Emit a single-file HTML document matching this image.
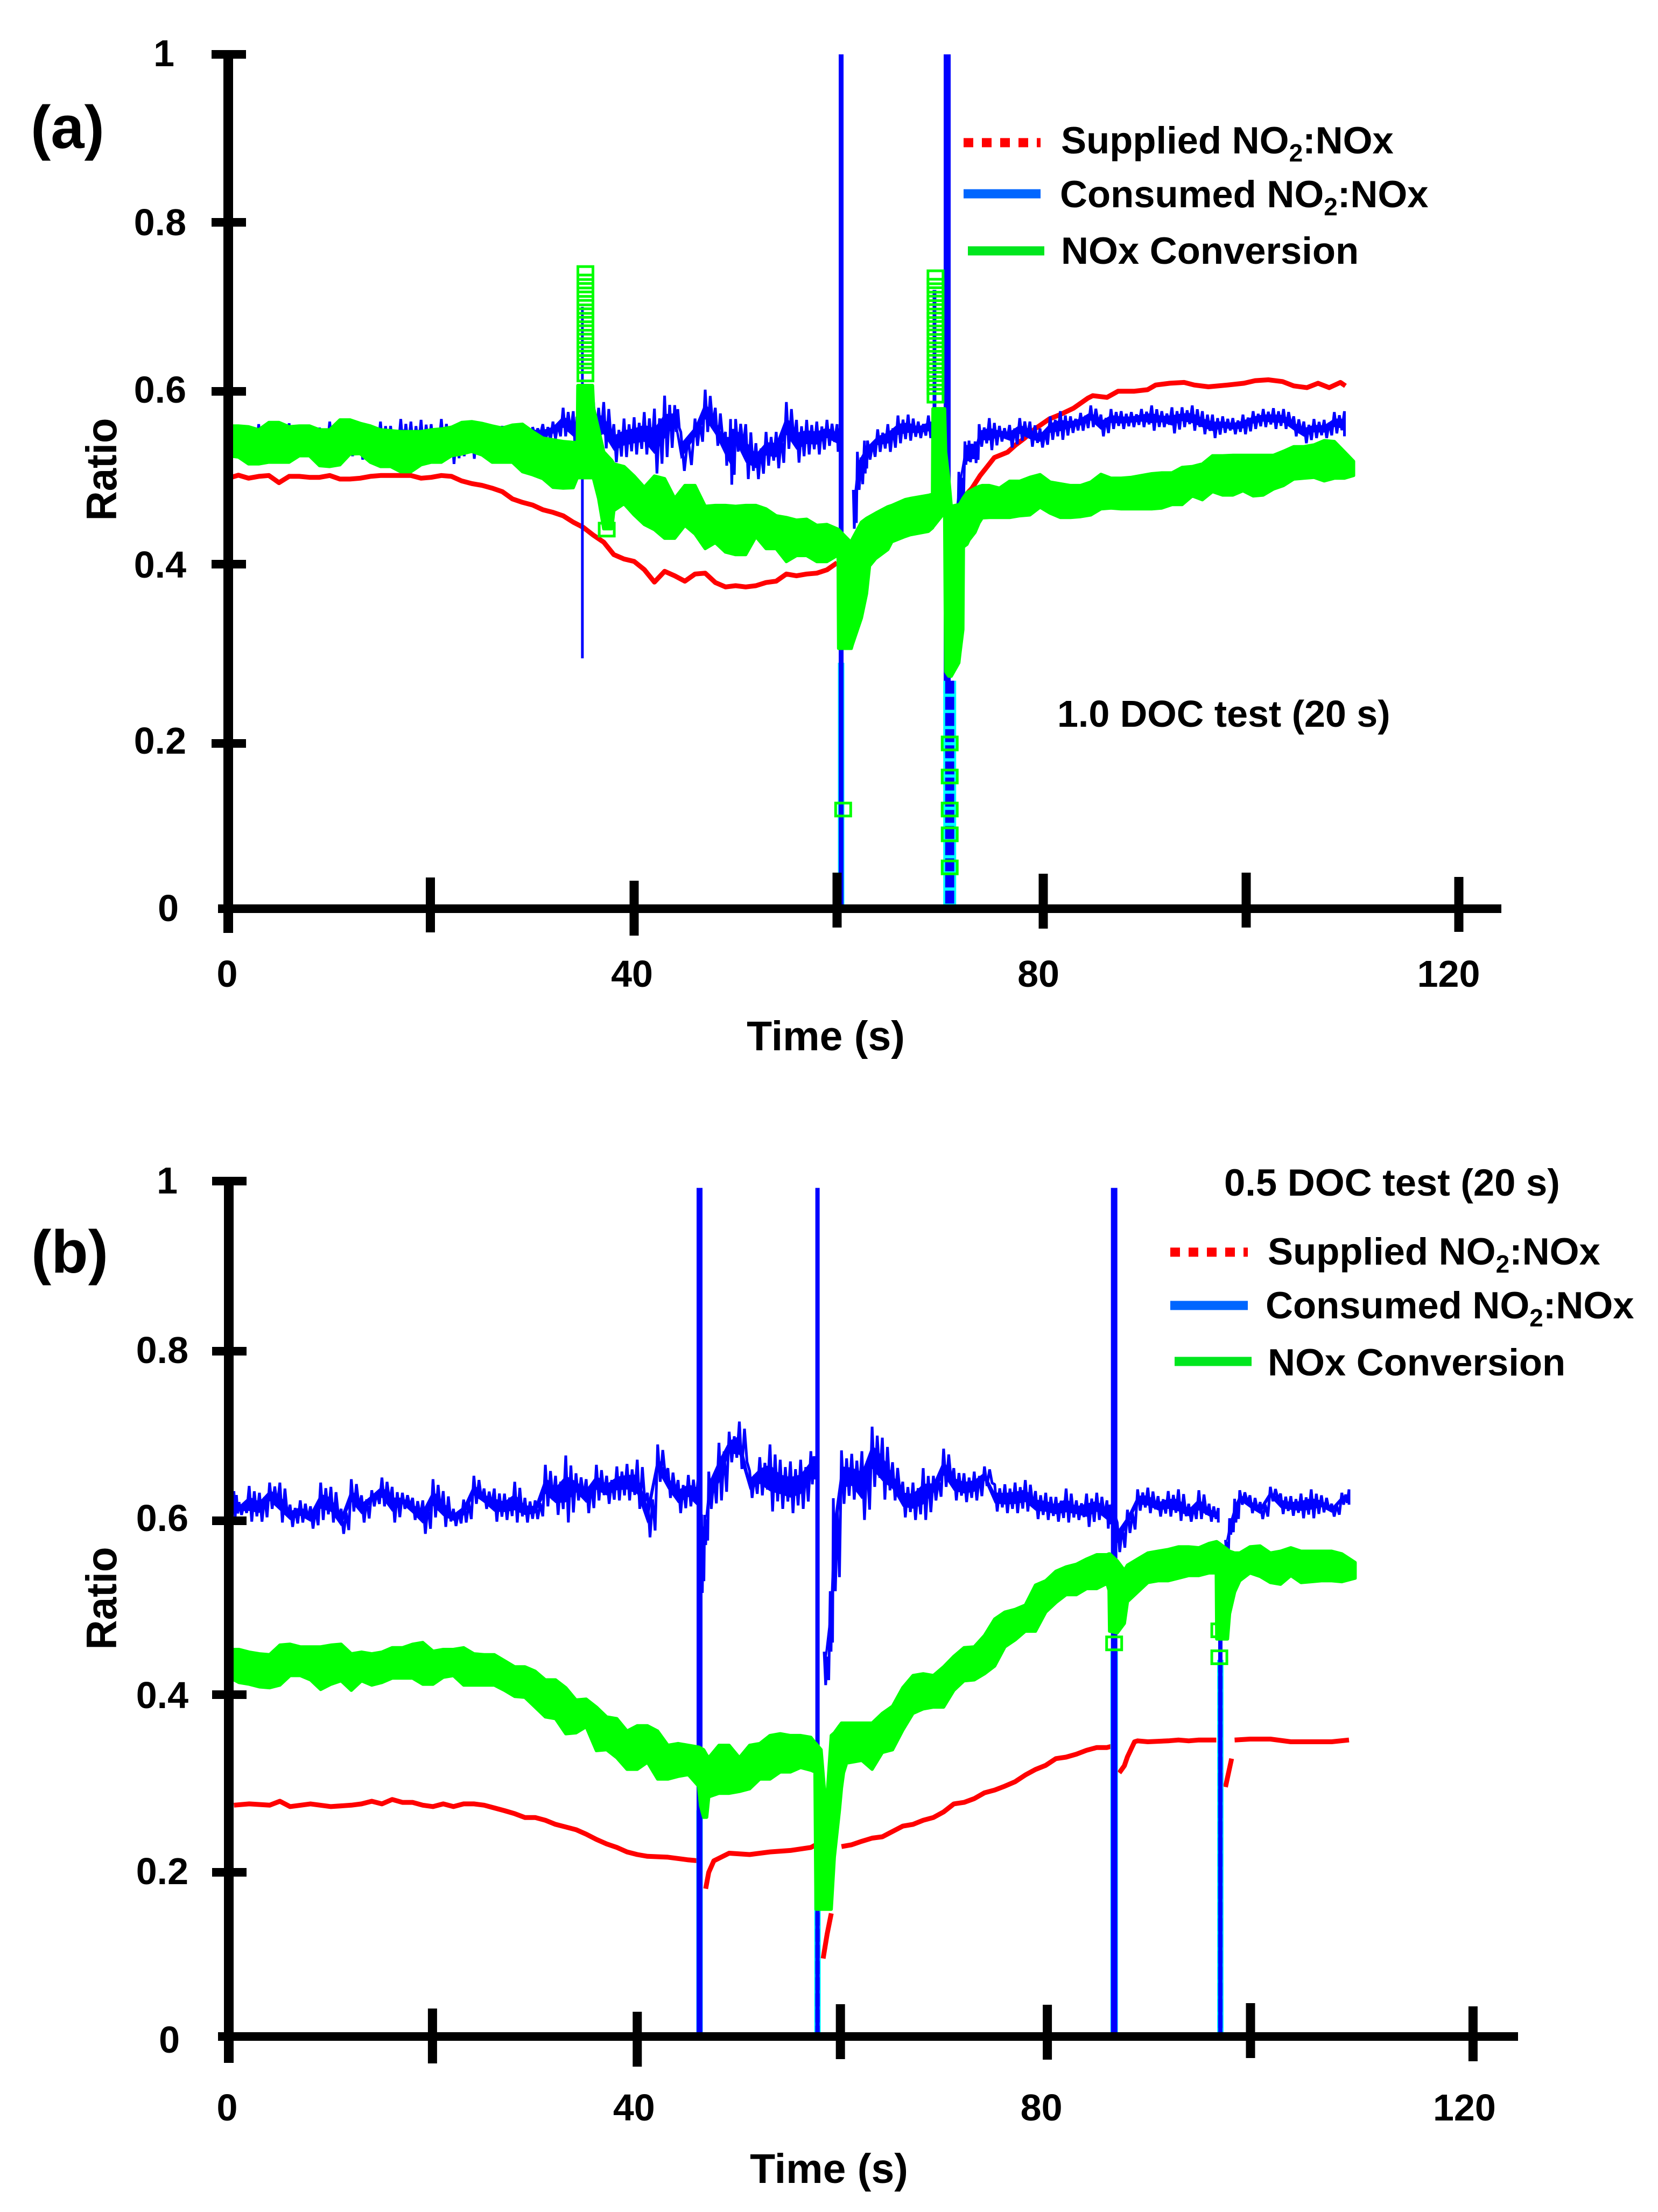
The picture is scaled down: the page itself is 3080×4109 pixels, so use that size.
<!DOCTYPE html>
<html lang="en">
<head>
<meta charset="utf-8">
<title>NO2:NOx ratio during DOC tests</title>
<style>
html,body{margin:0;padding:0;background:#fff;}
svg{display:block;}
text{font-family:"Liberation Sans",Arial,sans-serif;font-weight:bold;fill:#000;}
</style>
</head>
<body>
<svg id="figure" xmlns="http://www.w3.org/2000/svg" width="3080" height="4109" viewBox="0 0 3080 4109">
  <rect x="0" y="0" width="3080" height="4109" fill="#fff"/>

  <g id="panelA"></g>
  <g id="panelB"></g>

  <text x="57" y="275" font-size="112">(a)</text>
  <text x="58" y="2364" font-size="112">(b)</text>

  <text transform="translate(216 872) rotate(-90)" text-anchor="middle" font-size="80" textLength="191" lengthAdjust="spacingAndGlyphs">Ratio</text>
  <text transform="translate(216 2969) rotate(-90)" text-anchor="middle" font-size="80" textLength="191" lengthAdjust="spacingAndGlyphs">Ratio</text>
  <text x="1534" y="1951" text-anchor="middle" font-size="77">Time (s)</text>
  <text x="1540" y="4055" text-anchor="middle" font-size="77">Time (s)</text>

  <g>
    <line x1="1790" y1="265" x2="1933" y2="265" stroke="#ff0000" stroke-width="17" stroke-dasharray="18 16"/>
    <line x1="1790" y1="360" x2="1933" y2="360" stroke="#0066ff" stroke-width="17"/>
    <line x1="1798" y1="466" x2="1940" y2="466" stroke="#00e61e" stroke-width="17"/>
    <text x="1971" y="285" font-size="70.6">Supplied NO<tspan dy="15" font-size="46">2</tspan><tspan dy="-15">:NOx</tspan></text>
    <text x="1969" y="385" font-size="70.6">Consumed NO<tspan dy="15" font-size="46">2</tspan><tspan dy="-15">:NOx</tspan></text>
    <text x="1971" y="490" font-size="70.6">NOx Conversion</text>
  </g>
  <text x="1964" y="1350" font-size="70">1.0 DOC test (20 s)</text>

  <g>
    <line x1="2174" y1="2326" x2="2318" y2="2326" stroke="#ff0000" stroke-width="17" stroke-dasharray="18 16"/>
    <line x1="2174" y1="2425" x2="2318" y2="2425" stroke="#0066ff" stroke-width="17"/>
    <line x1="2182" y1="2529" x2="2325" y2="2529" stroke="#00e61e" stroke-width="17"/>
    <text x="2355" y="2349" font-size="70.6">Supplied NO<tspan dy="15" font-size="46">2</tspan><tspan dy="-15">:NOx</tspan></text>
    <text x="2351" y="2449" font-size="70.6">Consumed NO<tspan dy="15" font-size="46">2</tspan><tspan dy="-15">:NOx</tspan></text>
    <text x="2355" y="2555" font-size="70.6">NOx Conversion</text>
  </g>
  <text x="2274" y="2221" font-size="70.6">0.5 DOC test (20 s)</text>
</svg>

<script>
// ---------- shared axis values ----------
const xTickValues = [0,20,40,60,80,100,120];
const xLabelValues = [0,40,80,120];
const yTickValues = [0,0.2,0.4,0.6,0.8,1];
const yTickLabels = ['0','0.2','0.4','0.6','0.8','1'];

// ---------- panel (a) series: rows are [time, upper, lower] or [time, value]; null = gap ----------
const aSupplied = [[0,.4995],[1,.503],[2,.4995],[3,.5016],[4,.5026],[5,.4943],[6,.5016],[7,.5016],[8,.5005],[9,.5005],[10,.5026],[11,.4985],[12,.4985],[13,.4995],[14,.5016],[15,.5026],[16,.5026],[17,.5026],[18,.5026],[19,.4995],[20,.5005],[21,.5026],[22,.5016],[23,.4964],[24,.4933],[25,.4912],[26,.488],[27,.484],[28,.4756],[29,.4715],[30,.4684],[31,.463],[32,.46],[33,.456],[34,.4486],[35,.4425],[36,.4334],[37,.4255],[38,.411],[39,.406],[40,.4032],[41,.394],[42,.38],[43,.392],[44,.387],[45,.381],[46,.389],[47,.39],[48,.3795],[49,.3746],[50,.376],[51,.3746],[52,.376],[53,.3795],[54,.381],[55,.389],[56,.387],[57,.389],[58,.39],[59,.3937],[60,.4016],null,[60.9,.31],[61.4,.345],[62,.38],null,[71.9,.46],[72.5,.4777],[73.3,.488],[74.1,.5026],[74.6,.51],[75.5,.5234],[76.8,.5296],[77.6,.538],[78.5,.546],[79.5,.5566],[80.9,.568],[82,.5732],[83.3,.5805],[84.7,.592],[85.2,.595],[86.6,.593],[87.7,.6002],[89.3,.6002],[90.6,.602],[91.4,.6075],[92.8,.6096],[94.2,.6106],[95.2,.6075],[96.6,.6054],[98.5,.6075],[100.1,.6096],[101.2,.6127],[102.5,.6137],[103.9,.6116],[105,.6065],[106.3,.6044],[107.4,.6096],[108.5,.6044],[109.6,.6106],[110.1,.6065]];

const aConsumed = [[0,.558,.53],[1,.556,.53],[2,.558,.527],[3,.562,.53],[4,.556,.53],[5,.556,.53],[6,.563,.53],[7,.558,.53],[8,.556,.53],[9,.558,.53],[10,.565,.53],[11,.556,.53],[12,.556,.525],[13,.556,.521],[14,.558,.53],[15,.565,.53],[16,.56,.53],[17,.568,.53],[18,.565,.53],[19,.567,.53],[20,.562,.53],[21,.568,.53],[22,.56,.516],[23,.56,.525],[24,.56,.522],[25,.56,.53],[26,.56,.53],[27,.56,.53],[28,.56,.518],[29,.56,.51],[30,.5587,.548],[31,.562,.54],[32,.565,.545],[33,.581,.548],[34,.577,.535],[34.7,.565,.53],[36,.5876,.543],[37,.5876,.534],[38,.562,.518],[39,.5685,.524],[40,.57,.527],[41,.576,.527],[42,.58,.505],[43,.595,.524],[44,.584,.553],[44.6,.553,.508],[46,.5685,.537],[47,.602,.553],[48,.581,.537],[49,.553,.514],[49.5,.568,.492],[50,.568,.5303],[51,.562,.4985],[52,.54,.4985],[53,.553,.514],[54,.553,.511],[55,.5876,.5335],[56,.567,.5176],[57,.567,.527],[58,.565,.527],[59,.567,.537],[60,.562,.53],[60.4,.562,.53],null,[61.6,.486,.441],[62,.53,.486],[62.7,.543,.505],[63,.543,.521],[64,.556,.53],[65,.562,.53],[66,.572,.54],[67,.573,.543],[68,.565,.546],[69,.572,.546],[69.9,.578,.543],null,[71.5,.455,.42],[72,.5068,.461],[72.6,.542,.515],[73,.543,.518],[73.6,.542,.517],[74,.562,.536],[75,.569,.532],[76,.56,.542],[77,.561,.535],[78,.569,.543],[79,.565,.536],[80,.557,.535],[81,.571,.544],[82,.577,.544],[83,.571,.552],[84,.575,.5545],[85,.5836,.5587],[86,.573,.548],[87,.5795,.5566],[88,.577,.5566],[89,.576,.5587],[90,.5795,.5587],[91,.5836,.5545],[92,.577,.5587],[93,.5815,.5514],[94,.5815,.5587],[95,.5836,.5545],[96,.577,.5504],[97,.573,.546],[98,.571,.552],[99,.569,.5504],[100,.573,.5504],[101,.577,.5566],[102,.5795,.5587],[103,.5805,.5566],[104,.5795,.5566],[105,.571,.548],[106,.565,.54],[107,.568,.546],[108,.567,.546],[109,.576,.5514],[110,.577,.548]];

const aConversion = [[0,.56,.5255],[1,.56,.524],[2,.559,.516],[3,.5555,.516],[4,.564,.518],[5,.564,.518],[6,.559,.518],[7,.56,.5255],[8,.56,.5255],[9,.5555,.514],[10,.5555,.513],[11,.567,.515],[12,.567,.5275],[13,.563,.528],[14,.56,.518],[15,.5555,.513],[16,.5545,.513],[17,.5535,.507],[18,.5535,.507],[19,.5535,.515],[20,.5555,.518],[21,.5565,.518],[22,.5585,.5255],[23,.564,.5275],[24,.565,.5305],[25,.563,.5265],[26,.56,.518],[27,.5575,.518],[28,.561,.518],[29,.562,.507],[30,.5535,.5035],[31,.546,.499],[32,.544,.489],[33,.542,.488],[34,.541,.4885],[34.4,.541,.5],[34.45,.607,.5],[35.9,.607,.5],[36,.581,.499],[36.5,.556,.476],[37,.53,.441],[37.8,.52,.441],[38,.516,.462],[39,.513,.47],[40,.502,.457],[41,.489,.446],[42,.502,.44],[43,.499,.43],[44,.476,.43],[45,.491,.445],[46,.491,.435],[47,.467,.418],[48,.468,.425],[49,.468,.414],[50,.467,.411],[51,.468,.411],[52,.468,.432],[53,.464,.418],[54,.456,.418],[55,.454,.403],[56,.451,.41],[57,.452,.41],[58,.445,.403],[59,.446,.403],[60,.441,.41],[60.1,.44,.41],[60.15,.44,.306],[60.8,.432,.306],[61.4,.425,.306],[61.5,.429,.31],[62.4,.4486,.34],[62.9,.453,.367],[63.2,.455,.398],[63.8,.459,.4065],[65,.4665,.417],[65.4,.468,.426],[66.7,.4747,.432],[67.2,.476,.434],[69,.4797,.438],[69.4,.481,.442],[69.45,.58,.443],[70.6,.58,.46],[70.7,.53,.28],[71,.5,.275],[71.25,.467,.275],[72,.469,.29],[72.1,.47,.3],[72.4,.476,.327],[72.45,.477,.42],[72.8,.483,.423],[73,.484,.428],[73.6,.488,.437],[74,.49,.448],[74.3,.491,.4536],[75,.491,.454],[76,.488,.454],[77,.496,.454],[78,.496,.456],[79,.5005,.457],[80,.5037,.466],[81,.495,.459],[82,.493,.454],[83,.491,.454],[84,.491,.455],[85,.495,.457],[86,.504,.464],[87,.4995,.465],[88,.4995,.464],[89,.5005,.464],[90,.5026,.464],[91,.5047,.464],[92,.5057,.465],[93,.5057,.469],[94,.512,.469],[95,.513,.479],[96,.516,.4746],[97,.5255,.484],[98,.5255,.48],[99,.526,.48],[100,.526,.485],[101,.526,.479],[102,.526,.48],[103,.526,.487],[104,.5307,.491],[105,.536,.4985],[106,.536,.4995],[107,.538,.5005],[108,.543,.4964],[109,.542,.4995],[110,.53,.4995],[110.9,.519,.5026]];

// vertical excursions: [time, top, bottom]
const aSpikes = [[34.9,.7,.295],[60.4,1,0],[70.85,1,.27],[69.6,.72,.5]];
const aSpikeWidths = [5,9,13,7];
// open square sample markers: [time, value]
const aOpenMarkers = [[35.2,.74],[35.2,.73],[35.2,.72],[35.2,.71],[35.2,.7],[35.2,.69],[35.2,.68],[35.2,.67],[35.2,.66],[35.2,.65],[35.2,.64],[35.2,.63],[35.2,.62],[37.3,.44],[60.6,.12],[69.7,.735],[69.7,.725],[69.7,.715],[69.7,.705],[69.7,.695],[69.7,.685],[69.7,.675],[69.7,.665],[69.7,.655],[69.7,.645],[69.7,.635],[69.7,.625],[69.7,.615],[69.7,.605],[69.7,.595],[71.1,.2],[71.1,.16],[71.1,.12],[71.1,.09],[71.1,.05]];
// speckled saturated columns: [time, top]
const aSpeckle = [[60.4,.29],[71.1,.27]];
const aSpeckleWidths = [12,24];

// ---------- panel (b) series ----------
const bSupplied = [[.5,.2756],[2,.277],[4,.2756],[5,.28],[6,.274],[8,.277],[10,.274],[12,.2756],[13,.277],[14,.28],[15,.277],[16,.282],[17,.2787],[18,.2787],[19,.2756],[20,.274],[21,.277],[22,.274],[23,.277],[24,.277],[25,.2756],[26,.2725],[27,.2694],[28,.266],[29,.2617],[30,.2617],[31,.2586],[32,.254],[33,.251],[34,.248],[35,.243],[36,.237],[37,.232],[38,.228],[39,.223],[40,.22],[41,.218],[43,.217],[45,.214],[46,.213],null,[46.7,.18],[47,.2],[47.5,.213],[49,.2215],[51,.22],[53,.223],[55,.2246],[57,.228],[57.5,.231],null,[58.2,.095],[58.6,.125],[59,.15],null,[60,.229],[61,.231],[62,.235],[63,.2385],[64,.24],[65,.246],[66,.252],[67,.254],[68,.2586],[69,.2617],[70,.268],[71,.277],[72,.2787],[73,.283],[74,.2895],[75,.2926],[76,.297],[77,.302],[78,.3096],[79,.3158],[80,.3204],[81,.328],[82,.3297],[83,.333],[84,.3374],[85,.3405],[86,.3405],[86.5,.342],null,[87.2,.312],[87.7,.32],[88,.33],[88.7,.347],[89,.348],[90,.347],[92,.348],[93,.349],[94,.348],[95,.349],[96.7,.349],null,[97.6,.296],[98.2,.328],null,[98.5,.349],[100,.35],[102,.35],[104,.347],[106,.347],[108,.347],[109.7,.349]];

const bConsumed = [[.5,.635,.604],[1,.622,.607],[2,.641,.599],[3,.633,.599],[4,.645,.614],[5,.645,.598],[6,.619,.593],[7,.624,.598],[8,.617,.591],[9,.645,.601],[10,.64,.598],[11,.614,.585],[12,.649,.611],[13,.63,.598],[14,.636,.617],[15,.651,.617],[16,.64,.598],[17,.633,.614],[18,.627,.601],[19,.624,.585],[20,.649,.604],[21,.635,.593],[22,.614,.594],[23,.625,.598],[24,.653,.62],[25,.638,.614],[26,.638,.599],[27,.632,.601],[28,.646,.598],[29,.627,.598],[30,.624,.602],[31,.666,.617],[32,.653,.607],[33,.677,.598],[34,.656,.624],[35,.649,.609],[36,.666,.624],[37,.653,.62],[38,.664,.624],[39,.667,.624],[40,.672,.614],[41,.633,.581],[42,.69,.646],[43,.662,.627],[44,.648,.609],[45,.654,.617],[46,.656,.599],[46.3,.607,.517],[46.6,.607,.572],[47,.658,.614],[48,.692,.624],[49,.705,.669],[50,.717,.661],[51,.659,.627],[52,.675,.63],[53,.69,.611],[54,.672,.614],[55,.67,.609],[56,.672,.614],[57,.682,.643],[57.6,.682,.643],null,[58.3,.4495,.411],[58.9,.519,.4495],[59.2,.6266,.519],[60,.683,.62],[61,.679,.625],[62,.682,.601],[63,.711,.64],[64,.698,.625],[65,.669,.624],[66,.646,.604],[67,.645,.601],[68,.662,.601],[69,.653,.624],[70,.685,.64],[71,.662,.624],[72,.656,.622],[73,.658,.624],[74,.664,.641],[75,.643,.611],[76,.643,.609],[77,.645,.609],[78,.648,.611],[79,.635,.602],[80,.633,.601],[81,.628,.599],[82,.638,.598],[83,.624,.601],[84,.632,.593],[85,.633,.601],[86,.624,.591],[86.5,.62,.6],[87,.598,.564],[88,.613,.586],[89,.637,.612],[90,.639,.609],[91,.629,.605],[92,.635,.605],[93,.637,.6],[94,.62,.599],[95,.636,.602],[96,.62,.599],[96.9,.615,.598],null,[97.6,.578,.564],[98,.603,.584],[98.5,.626,.598],[99,.636,.619],[100,.63,.609],[101,.622,.602],[102,.64,.623],[103,.632,.608],[104,.629,.606],[105,.632,.603],[106,.637,.603],[107,.63,.61],[108,.62,.605],[109,.633,.619],[109.7,.637,.619]];

const bConversion = [[.5,.452,.417],[1,.452,.414],[2,.449,.412],[3,.447,.409],[4,.446,.408],[5,.457,.411],[6,.458,.422],[7,.455,.422],[8,.455,.417],[9,.455,.406],[10,.457,.412],[11,.458,.416],[12,.447,.405],[13,.449,.416],[14,.447,.411],[15,.449,.414],[16,.454,.419],[17,.454,.419],[18,.458,.419],[19,.46,.412],[20,.45,.412],[21,.452,.42],[22,.452,.422],[23,.454,.411],[24,.447,.411],[25,.446,.411],[26,.446,.411],[27,.439,.405],[28,.432,.398],[29,.432,.397],[30,.427,.386],[31,.417,.375],[32,.417,.373],[33,.408,.356],[34,.394,.357],[35,.395,.364],[36,.386,.337],[37,.375,.338],[38,.373,.329],[39,.359,.316],[40,.365,.316],[41,.365,.324],[42,.359,.305],[43,.343,.305],[44,.345,.308],[45,.343,.31],[46,.341,.297],[46.2,.34,.275],[46.5,.338,.262],[46.8,.332,.262],[47,.329,.285],[48,.343,.289],[49,.343,.289],[50,.329,.291],[51,.343,.294],[52,.345,.305],[53,.354,.305],[54,.356,.313],[55,.354,.313],[56,.354,.318],[57,.352,.315],[57.4,.346,.313],[57.5,.345,.155],[58,.338,.155],[58.5,.27,.155],[59,.354,.155],[59.3,.357,.217],[59.8,.365,.27],[60,.368,.295],[60.2,.368,.312],[60.5,.368,.323],[61,.368,.324],[62,.368,.326],[63,.368,.316],[64,.379,.335],[65,.387,.338],[66,.408,.36],[67,.422,.379],[68,.424,.384],[69,.422,.386],[70,.432,.386],[71,.444,.405],[72,.454,.416],[73,.455,.417],[74,.468,.424],[75,.487,.433],[76,.495,.455],[77,.498,.463],[78,.503,.473],[79,.526,.473],[80,.531,.495],[81,.542,.506],[82,.547,.515],[83,.55,.515],[84,.556,.522],[85,.561,.522],[86,.561,.528],[86.2,.562,.52],[86.25,.562,.473],[87,.554,.471],[87.7,.543,.482],[88,.549,.507],[89,.556,.518],[90,.563,.529],[91,.565,.531],[92,.567,.531],[93,.57,.534],[94,.57,.537],[95,.569,.537],[96,.574,.54],[96.7,.576,.54],[96.75,.576,.464],[97,.574,.464],[97.8,.567,.464],[98,.565,.493],[98.5,.563,.518],[99,.563,.531],[100,.57,.54],[101,.571,.536],[102,.563,.529],[103,.565,.527],[104,.569,.537],[105,.565,.529],[106,.565,.53],[107,.565,.531],[108,.565,.531],[109,.562,.53],[110.3,.552,.534]];

const bSpikes = [[46.1,.992,0],[57.65,.992,0],[86.7,.992,0],[97.1,.57,0]];
const bSpikeWidths = [11,8,12,8];
const bOpenMarkers = [[86.7,.459],[97,.474],[97,.443]];
const bSpeckle = [[46.1,.27],[57.65,.3],[86.7,.45],[97.1,.44]];
const bSpeckleWidths = [12,12,14,12];

// ---------- axis calibration for each panel ----------
const panels = [
  {key:'a', root:'panelA', x0:424, pxPerSecond:18.85, yRange:[1688,1381,1048,727,413,101],
   xAxisEnd:2789, xAxisStart:405, axisTop:93, axisBottom:1733,
   xTickNudge:[0,-1.5,0,0,6,6,24], xTickShift:[0,0,6,-9,-7,-9,-1], tickUp:58,
   xLabelNudge:[-2,-4,-3,5], xLabelBaseline:1833,
   yLabelRight:[332,346,346,346,346,324], yLabelDy:[23,19,25,21,24,22],
   supplied:aSupplied, consumed:aConsumed, conversion:aConversion, spikes:aSpikes, spikeWidths:aSpikeWidths,
   markers:aOpenMarkers, speckle:aSpeckle, speckleWidths:aSpeckleWidths},
  {key:'b', root:'panelB', x0:425, pxPerSecond:18.97, yRange:[3783,3478,3148,2825,2510,2194],
   xAxisEnd:2820, xAxisStart:405, axisTop:2186, axisBottom:3832,
   xTickNudge:[0,-1,0,-2,3,1,35], xTickShift:[0,0,6,-8,-7,-10,-4], tickUp:52,
   xLabelNudge:[-3,-6,-8,19], xLabelBaseline:3939,
   yLabelRight:[334,350,350,350,350,330], yLabelDy:[30,22,25,19,22,23],
   supplied:bSupplied, consumed:bConsumed, conversion:bConversion, spikes:bSpikes, spikeWidths:bSpikeWidths,
   markers:bOpenMarkers, speckle:bSpeckle, speckleWidths:bSpeckleWidths}
];

const NS = 'http://www.w3.org/2000/svg';
function mk(tag, attrs, parent){
  const el = document.createElementNS(NS, tag);
  for (const k in attrs) el.setAttribute(k, attrs[k]);
  parent.appendChild(el);
  return el;
}
function makeX(p){ return t => p.x0 + p.pxPerSecond * t; }
function makeY(p){
  return v => {
    let i = 0;
    while (i < yTickValues.length - 2 && v > yTickValues[i + 1]) i++;
    const f = (v - yTickValues[i]) / (yTickValues[i + 1] - yTickValues[i]);
    return p.yRange[i] + f * (p.yRange[i + 1] - p.yRange[i]);
  };
}
function segments(rows){
  const out = [[]];
  rows.forEach(r => { if (r === null) out.push([]); else out[out.length - 1].push(r); });
  return out.filter(s => s.length);
}
function linePath(rows, x, y){
  return segments(rows).map(s => 'M' + s.map(r => x(r[0]).toFixed(1) + ' ' + y(r[1]).toFixed(1)).join('L')).join('');
}
function bandPath(rows, x, y, keep){
  return segments(rows).map(s => {
    const up = s.map(r => {
      const mid = (r[1] + r[2]) / 2;
      return x(r[0]).toFixed(1) + ' ' + y(mid + (r[1] - mid) * keep).toFixed(1);
    });
    const low = s.slice().reverse().map(r => {
      const mid = (r[1] + r[2]) / 2;
      return x(r[0]).toFixed(1) + ' ' + y(mid + (r[2] - mid) * keep).toFixed(1);
    });
    return 'M' + up.concat(low).join('L') + 'Z';
  }).join('');
}
// noisy trace: teeth swing between each sample's upper and lower readings
function tracePath(rows, x, y){
  return segments(rows).map(s => {
    const pts = [];
    s.forEach((r, i) => {
      const next = s[i + 1] || r;
      const step = next[0] - r[0];
      const mid = (r[1] + r[2]) / 2;
      pts.push([r[0], r[1]]);
      pts.push([r[0] + step * 0.25, r[2]]);
      pts.push([r[0] + step * 0.5, mid + (r[1] - mid) * 0.7]);
      pts.push([r[0] + step * 0.75, mid + (r[2] - mid) * 0.7]);
    });
    return 'M' + pts.map(q => x(q[0]).toFixed(1) + ' ' + y(q[1]).toFixed(1)).join('L');
  }).join('');
}

panels.forEach(p => {
  const root = document.getElementById(p.root);
  const x = makeX(p);
  const y = makeY(p);

  // red supplied ratio
  const supplied = mk('path', {d:linePath(p.supplied, x, y), fill:'none', stroke:'#ff0000', 'stroke-width':9, 'stroke-linejoin':'round'}, root);
  
  

  // saturated speckle columns
  p.speckle.forEach((s, i) => {
    const cyan = mk('line', {x1:x(s[0]), x2:x(s[0]), y1:y(s[1]), y2:y(0), stroke:'#00ffff', 'stroke-width':p.speckleWidths[i]}, root);
    
    
    const dash = mk('line', {x1:x(s[0]), x2:x(s[0]), y1:y(s[1]), y2:y(0), stroke:'#0000ff', 'stroke-width':p.speckleWidths[i] * 0.7, 'stroke-dasharray':'24 6'}, root);
    
    
  });

  // blue vertical excursions
  p.spikes.forEach((s, i) => {
    const spike = mk('line', {x1:x(s[0]), x2:x(s[0]), y1:y(s[1]), y2:y(s[2]), stroke:'#0000ff', 'stroke-width':p.spikeWidths[i]}, root);
    
    
  });

  // blue consumed ratio: solid core plus noisy trace
  const core = mk('path', {d:bandPath(p.consumed, x, y, 0.4), fill:'#0000ff', stroke:'none'}, root);
  
  
  const consumed = mk('path', {d:tracePath(p.consumed, x, y), fill:'none', stroke:'#0000ff', 'stroke-width':5, 'stroke-linejoin':'bevel'}, root);
  
  

  // green conversion band
  const conversion = mk('path', {d:bandPath(p.conversion, x, y, 1), fill:'#00ff00', stroke:'#00ff00', 'stroke-width':6, 'stroke-linejoin':'round'}, root);
  
  

  // open markers where samples separate
  p.markers.forEach(m => {
    const box = mk('rect', {x:x(m[0]) - 14, y:y(m[1]) - 12, width:28, height:24, fill:'none', stroke:'#00ff00', 'stroke-width':5}, root);
    
    
  });

  // axes
  const yAxis = mk('line', {x1:p.x0, x2:p.x0, y1:p.axisTop, y2:p.axisBottom, stroke:'#000', 'stroke-width':18}, root);
  
  
  const xAxis = mk('line', {x1:p.xAxisStart, x2:p.xAxisEnd, y1:y(0), y2:y(0), stroke:'#000', 'stroke-width':16}, root);
  
  

  xTickValues.forEach((t, i) => {
    if (t === 0) return;
    const top = y(0) - p.tickUp + p.xTickShift[i];
    const tick = mk('line', {x1:x(t) + p.xTickNudge[i], x2:x(t) + p.xTickNudge[i], y1:top, y2:top + 102, stroke:'#000', 'stroke-width':17}, root);
    
    
  });
  xLabelValues.forEach((t, i) => {
    const label = mk('text', {x:x(t) + p.xLabelNudge[i], y:p.xLabelBaseline, 'text-anchor':'middle', 'font-size':70}, root);
    label.textContent = String(t);
    
    
  });
  yTickValues.forEach((v, i) => {
    if (v !== 0) {
      const tick = mk('line', {x1:p.x0 - 31, x2:p.x0 + 33, y1:y(v), y2:y(v), stroke:'#000', 'stroke-width':16}, root);
      
      
    }
    const label = mk('text', {x:p.yLabelRight[i], y:y(v) + p.yLabelDy[i], 'text-anchor':'end', 'font-size':70}, root);
    label.textContent = yTickLabels[i];
    
    
  });
});
</script>
</body>
</html>
